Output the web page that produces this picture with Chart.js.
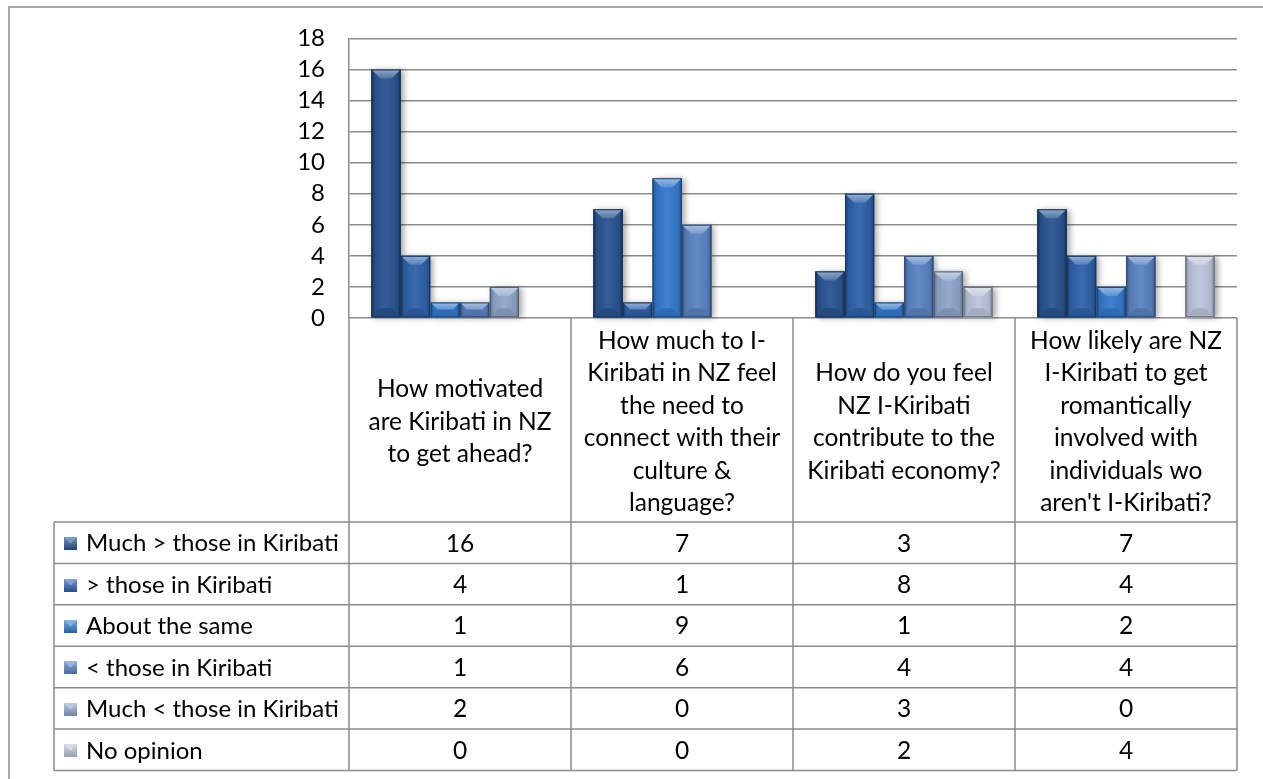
<!DOCTYPE html>
<html><head><meta charset="utf-8">
<script src="https://cdn.jsdelivr.net/npm/chart.js@4.4.1/dist/chart.umd.min.js"></script>
<style>html,body{margin:0;padding:0;background:#fff;} #wrap{position:relative;width:1263px;height:779px;}</style>
</head><body><div id="wrap"><canvas id="c" width="1263" height="779"></canvas></div>
<script>
// ---------- DATA ----------
const categories = [
  ["How motivated","are Kiribati in NZ","to get ahead?"],
  ["How much to I-","Kiribati in NZ feel","the need to","connect with their","culture &","language?"],
  ["How do you feel","NZ I-Kiribati","contribute to the","Kiribati economy?"],
  ["How likely are NZ","I-Kiribati to get","romantically","involved with","individuals wo","aren't I-Kiribati?"]
];
const seriesNames = ["Much > those in Kiribati","> those in Kiribati","About the same","< those in Kiribati","Much < those in Kiribati","No opinion"];
const muchGreater = [16,7,3,7];
const greater     = [4,1,8,4];
const aboutSame   = [1,9,1,2];
const less        = [1,6,4,4];
const muchLess    = [2,0,3,0];
const noOpinion   = [0,0,2,4];
const yMin = 0, yMax = 18, yStep = 2;

// ---------- STYLE ----------
const seriesColors = ["#2a5491","#2e62aa","#3479cc","#5a82c2","#90a5ca","#bcc6db"];
const FONT = "Lato, 'Liberation Sans', sans-serif";
const FS = 24.5;
const LEG_FS = 24;
const TICK_FS = 24;
const GRID = "#8c8c8c";

function shade(hex, f){
  const n = parseInt(hex.slice(1),16);
  let r = n>>16, g = (n>>8)&255, b = n&255;
  if (f >= 0){ r += (255-r)*f; g += (255-g)*f; b += (255-b)*f; }
  else { r *= 1+f; g *= 1+f; b *= 1+f; }
  return `rgb(${Math.round(r)},${Math.round(g)},${Math.round(b)})`;
}

function drawBevel(ctx, x0, x1, top, bottom, color){
  const w = x1-x0, h = bottom-top;
  if (h <= 0) return;
  const g = ctx.createLinearGradient(x0,0,x1,0);
  g.addColorStop(0, shade(color,-0.35));
  g.addColorStop(0.12, shade(color,-0.08));
  g.addColorStop(0.5, shade(color,0.06));
  g.addColorStop(0.88, shade(color,-0.08));
  g.addColorStop(1, shade(color,-0.35));
  ctx.fillStyle = g; ctx.fillRect(x0, top, w, h);
  const b = Math.min(9, h/2, w/2);
  ctx.beginPath(); ctx.moveTo(x0,top); ctx.lineTo(x1,top); ctx.lineTo(x1-b,top+b); ctx.lineTo(x0+b,top+b); ctx.closePath();
  const gt = ctx.createLinearGradient(0,top,0,top+b);
  gt.addColorStop(0, shade(color,0.5)); gt.addColorStop(1, shade(color,0.18));
  ctx.fillStyle = gt; ctx.fill();
  ctx.beginPath(); ctx.moveTo(x0,bottom); ctx.lineTo(x1,bottom); ctx.lineTo(x1-b,bottom-b); ctx.lineTo(x0+b,bottom-b); ctx.closePath();
  ctx.fillStyle = shade(color,-0.12); ctx.fill();
  ctx.strokeStyle = shade(color,-0.45); ctx.lineWidth = 1;
  ctx.strokeRect(x0+0.5, top+0.5, w-1, h-1);
}

const bevelPlugin = {
  id: 'bevel',
  beforeDatasetsDraw(chart){
    const ctx = chart.ctx;
    chart.data.datasets.forEach((ds, di) => {
      chart.getDatasetMeta(di).data.forEach(el => {
        const top = Math.min(el.y, el.base), bot = Math.max(el.y, el.base);
        if (bot - top < 0.5) return;
        ctx.save();
        ctx.shadowColor = 'rgba(0,0,0,0.35)';
        ctx.shadowBlur = 6; ctx.shadowOffsetX = 3; ctx.shadowOffsetY = 1;
        ctx.fillStyle = ds.backgroundColor;
        ctx.fillRect(el.x - el.width/2, top, el.width, bot-top);
        ctx.restore();
      });
    });
  },
  afterDatasetsDraw(chart){
    const ctx = chart.ctx;
    ctx.save();
    chart.data.datasets.forEach((ds, di) => {
      chart.getDatasetMeta(di).data.forEach(el => {
        const top = Math.min(el.y, el.base), bot = Math.max(el.y, el.base);
        if (bot - top < 0.5) return;
        drawBevel(ctx, el.x - el.width/2, el.x + el.width/2, top, bot, ds.backgroundColor);
      });
    });
    ctx.restore();
  }
};

const tablePlugin = {
  id: 'dataTable',
  afterDraw(chart){
    const ctx = chart.ctx, xs = chart.scales.x, ca = chart.chartArea;
    const n = chart.data.labels.length;
    const step = xs.getPixelForValue(1) - xs.getPixelForValue(0);
    const bounds = [];
    for (let i=0;i<=n;i++) bounds.push(xs.getPixelForValue(0) - step/2 + i*step);
    const headTop = ca.bottom, headBot = 522, tabBot = 770.5, legLeft = 54;
    const rowH = (tabBot - headBot) / chart.data.datasets.length;
    ctx.save();
    ctx.strokeStyle = GRID; ctx.lineWidth = 1.5;
    ctx.beginPath(); ctx.moveTo(9, 800); ctx.lineTo(9, 7); ctx.lineTo(1300, 7); ctx.stroke();
    ctx.beginPath();
    bounds.forEach(x => { ctx.moveTo(x, headTop); ctx.lineTo(x, tabBot); });
    ctx.moveTo(legLeft, headBot); ctx.lineTo(legLeft, tabBot);
    for (let r=0;r<=chart.data.datasets.length;r++){
      const y = headBot + r*rowH;
      ctx.moveTo(legLeft, y); ctx.lineTo(bounds[n], y);
    }
    ctx.stroke();
    ctx.fillStyle = '#000';
    ctx.font = `${FS}px ${FONT}`;
    ctx.textAlign = 'center'; ctx.textBaseline = 'middle';
    const lh = 32.5;
    chart.data.labels.forEach((lines, i) => {
      const cx = xs.getPixelForValue(i);
      const cy = (headTop + headBot)/2 + 2;
      const y0 = cy - (lines.length-1)*lh/2;
      lines.forEach((t, k) => ctx.fillText(t, cx, y0 + k*lh));
    });
    chart.data.datasets.forEach((ds, r) => {
      const cy = headBot + r*rowH + rowH/2 + 1;
      const ix = 64, iy = Math.round(cy - 6.5), s = 13;
      const g = ctx.createLinearGradient(0, iy, 0, iy+s);
      g.addColorStop(0, shade(ds.backgroundColor, 0.35));
      g.addColorStop(1, shade(ds.backgroundColor, -0.2));
      ctx.fillStyle = g; ctx.fillRect(ix, iy, s, s);
      ctx.beginPath(); ctx.moveTo(ix,iy); ctx.lineTo(ix+s,iy); ctx.lineTo(ix+s/2,iy+s/2); ctx.closePath();
      ctx.fillStyle = shade(ds.backgroundColor, 0.4); ctx.fill();
      ctx.fillStyle = '#000'; ctx.textAlign = 'left';
      ctx.font = `${LEG_FS}px ${FONT}`;
      ctx.fillText(ds.label, 86, cy);
      ctx.font = `${FS}px ${FONT}`;
      ctx.textAlign = 'center';
      ds.data.forEach((v, i) => ctx.fillText(String(v), xs.getPixelForValue(i), cy));
    });
    ctx.restore();
  }
};

const seriesData = [muchGreater, greater, aboutSame, less, muchLess, noOpinion];
new Chart(document.getElementById('c'), {
  type: 'bar',
  data: {
    labels: categories,
    datasets: seriesNames.map((name, i) => ({
      label: name, data: seriesData[i],
      backgroundColor: seriesColors[i], borderWidth: 0
    }))
  },
  options: {
    responsive: false, animation: false, events: [],
    layout: { padding: { left: 0, top: 36, right: 26, bottom: 779 - 318 } },
    datasets: { bar: { barPercentage: 0.985, categoryPercentage: 0.8 } },
    plugins: { legend: { display: false }, tooltip: { enabled: false }, title: { display: false } },
    scales: {
      x: { display: false },
      y: {
        min: yMin, max: yMax,
        afterFit(scale){ scale.width = 349; },
        ticks: { stepSize: yStep, autoSkip: false, color: '#000', padding: 24, font: { family: FONT, size: TICK_FS } },
        grid: { color: GRID, lineWidth: 1.5, drawTicks: false },
        border: { display: true, color: GRID, width: 1.5 }
      }
    }
  },
  plugins: [bevelPlugin, tablePlugin]
});
</script>
</body></html>
